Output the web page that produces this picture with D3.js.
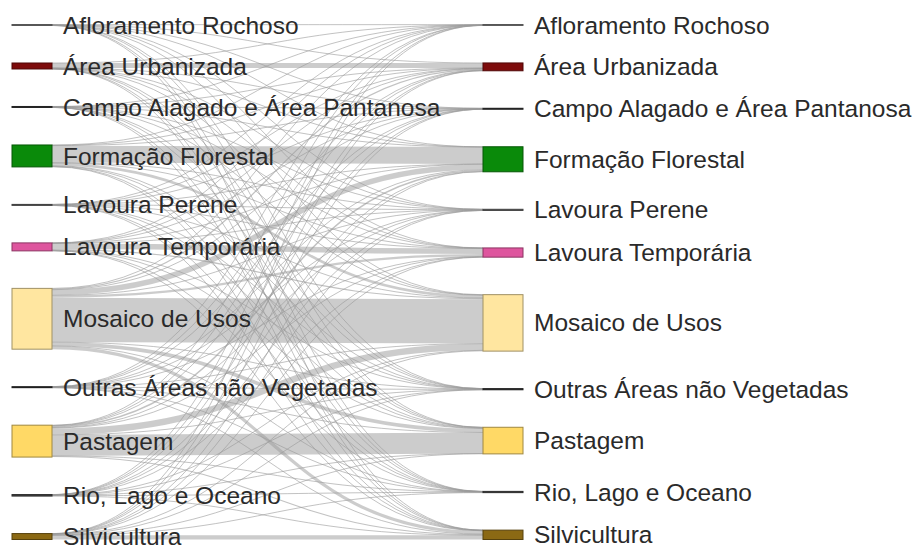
<!DOCTYPE html>
<html>
<head>
<meta charset="utf-8">
<script src="https://cdn.jsdelivr.net/npm/d3@7"></script>
<style>
  body { margin: 0; background: #fff; }
  text { font-family: Arial, "Liberation Sans", sans-serif; }
</style>
</head>
<body>
<script>

// classes de uso do solo (mesma ordem nas duas colunas)
var classes = [
    'Afloramento Rochoso',
    'Área Urbanizada',
    'Campo Alagado e Área Pantanosa',
    'Formação Florestal',
    'Lavoura Perene',
    'Lavoura Temporária',
    'Mosaico de Usos',
    'Outras Áreas não Vegetadas',
    'Pastagem',
    'Rio, Lago e Oceano',
    'Silvicultura'
];

// transições: linha = classe de origem, coluna = classe de destino
var fluxos = [
    [0.3, 0.05, 0.05, 0.1, 0.05, 0.05, 0.15, 0.05, 0.1, 0.05, 0.05],   // Afloramento
    [0.05, 5.0, 0.05, 0.1, 0.05, 0.1, 0.35, 0.05, 0.15, 0.05, 0.05],   // Urbanizada
    [0.05, 0.05, 0.3, 0.1, 0.05, 0.05, 0.15, 0.05, 0.1, 0.05, 0.05],   // Campo Alagado
    [0.1, 0.5, 0.1, 17.0, 0.1, 0.4, 2.6, 0.1, 0.6, 0.1, 0.4],          // Florestal
    [0.05, 0.05, 0.05, 0.1, 0.3, 0.05, 0.15, 0.05, 0.1, 0.05, 0.05],   // Lav. Perene
    [0.05, 0.2, 0.05, 0.2, 0.05, 5.5, 1.2, 0.05, 0.5, 0.05, 0.15],     // Lav. Temporaria
    [0.1, 1.2, 0.1, 5.5, 0.2, 2.3, 44.5, 0.2, 3.6, 0.1, 3.2],          // Mosaico
    [0.05, 0.05, 0.05, 0.1, 0.05, 0.05, 0.15, 0.3, 0.1, 0.05, 0.05],   // Outras
    [0.1, 0.6, 0.1, 1.5, 0.2, 0.6, 6.5, 0.2, 21.0, 0.1, 1.1],          // Pastagem
    [0.05, 0.05, 0.1, 0.1, 0.05, 0.05, 0.2, 0.05, 0.15, 0.6, 0.1],     // Rio
    [0.05, 0.1, 0.05, 0.3, 0.05, 0.1, 0.7, 0.05, 0.3, 0.05, 4.2]       // Silvicultura
];

var cores = ['#8a8a8a', '#7d0b0b', '#3a3a3a', '#0a8a0a', '#6a6a6a', '#de559e',
             '#ffe6a0', '#333333', '#ffd966', '#444444', '#8b6914'];

var width = 917,
    height = 545,
    nodeWidth = 40,
    yTop = 24.5,
    yBottom = 539.5;

var svg = d3.select('body').append('svg')
    .attr('width', width)
    .attr('height', height);

var colX = d3.scaleOrdinal().domain(['origem', 'destino']).range([12, 483]);

// nós
var origem = classes.map(function (c, i) {
    return { name: c, i: i, col: 'origem', value: d3.sum(fluxos[i]) };
});
var destino = classes.map(function (c, j) {
    return { name: c, i: j, col: 'destino', value: d3.sum(fluxos, function (r) { return r[j]; }) };
});

var total = Math.max(d3.sum(origem, function (d) { return d.value; }),
                     d3.sum(destino, function (d) { return d.value; }));
var pad = 37.5;
var y = d3.scaleLinear().domain([0, total])
    .range([0, yBottom - yTop - pad * (classes.length - 1)]);

[origem, destino].forEach(function (col) {
    var colTotal = d3.sum(col, function (d) { return y(d.value); });
    var p = (yBottom - yTop - colTotal) / (col.length - 1);
    var pos = yTop;
    col.forEach(function (n) {
        n.x0 = colX(n.col);
        n.x1 = n.x0 + nodeWidth;
        n.y0 = pos;
        n.y1 = pos + y(n.value);
        pos = n.y1 + p;
        n.off = 0;
    });
});

// ligações, empilhadas por ordem de destino na origem e de origem no destino
var links = [];
fluxos.forEach(function (row, i) {
    row.forEach(function (v, j) {
        links.push({ source: origem[i], target: destino[j], value: v, width: y(v) });
    });
});
links.forEach(function (l) {
    l.y0 = l.source.y0 + l.source.off + l.width / 2;
    l.source.off += l.width;
});
d3.range(classes.length).forEach(function (j) {
    links.filter(function (l) { return l.target.i === j; })
        .forEach(function (l) {
            l.y1 = l.target.y0 + l.target.off + l.width / 2;
            l.target.off += l.width;
        });
});

var path = d3.linkHorizontal()
    .source(function (d) { return [d.source.x1, d.y0]; })
    .target(function (d) { return [d.target.x0, d.y1]; });

svg.append('g')
    .attr('class', 'links')
    .selectAll('path')
    .data(links.slice().sort(function (a, b) { return b.width - a.width; }))
    .enter()
    .append('path')
    .attr('d', path)
    .attr('fill', 'none')
    .attr('stroke', '#999')
    .attr('stroke-opacity', function (d) { return d.width < 1.5 ? 0.6 : 0.5; })
    .attr('stroke-width', function (d) { return Math.max(1, d.width); });

var nodes = origem.concat(destino);

svg.append('g')
    .attr('class', 'nodes')
    .selectAll('rect')
    .data(nodes)
    .enter()
    .append('rect')
    .attr('x', function (d) { return d.x0; })
    .attr('y', function (d) { return d.y0; })
    .attr('width', nodeWidth)
    .attr('height', function (d) { return Math.max(0.5, d.y1 - d.y0); })
    .attr('fill', function (d) { return cores[d.i]; })
    .attr('stroke', function (d) { return d3.color(cores[d.i]).darker(1.3); })
    .attr('stroke-width', 1);

svg.append('g')
    .attr('class', 'labels')
    .selectAll('text')
    .data(nodes)
    .enter()
    .append('text')
    .attr('x', function (d) { return d.x1 + 11; })
    .attr('y', function (d) { return (d.y0 + d.y1) / 2; })
    .attr('dy', '0.35em')
    .attr('fill', '#2a2a2a')
    .style('font-size', '24.5px')
    .text(function (d) { return d.name; });

</script>
</body>
</html>
